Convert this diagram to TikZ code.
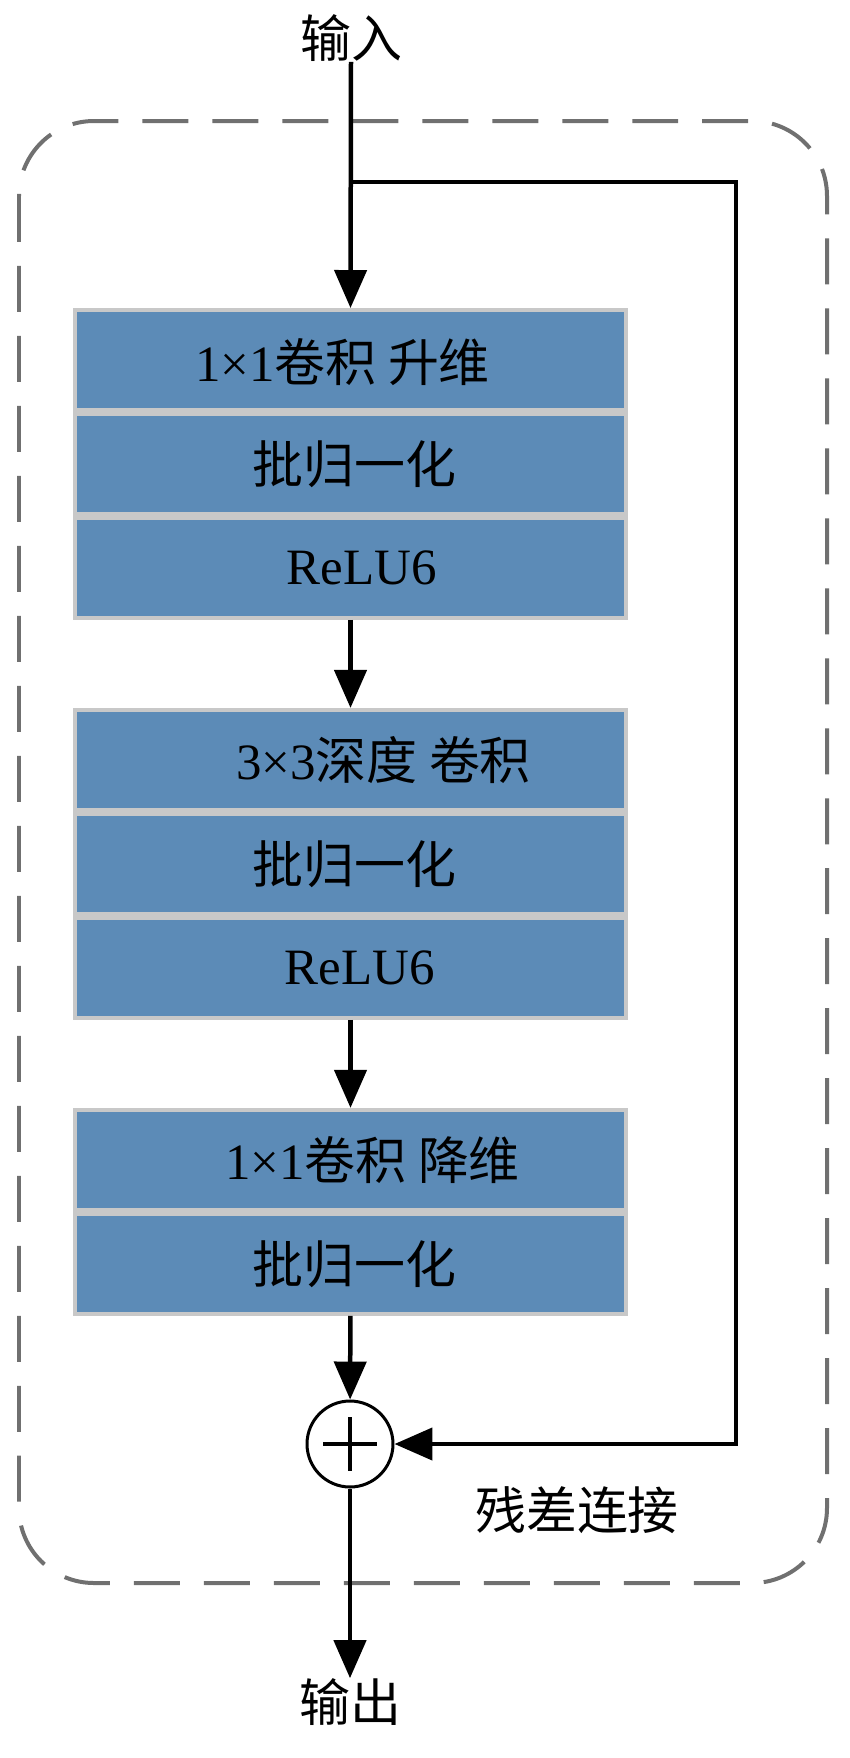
\documentclass[tikz,border=0pt]{standalone}
\usepackage{xcolor}
\usepackage{fontspec}
\usepackage{tikz}
\usetikzlibrary{arrows.meta,positioning,calc}
\setmainfont{Liberation Serif}
\newfontfamily\cjk{Noto Sans CJK SC}
\definecolor{layerblue}{RGB}{92,139,183}
\definecolor{layeredge}{RGB}{200,200,200}
\definecolor{framegray}{RGB}{112,112,112}

\begin{document}
\begin{tikzpicture}[x=0.02cm,y=-0.02cm,
	layer/.style={draw=layeredge,fill=layerblue,line width=0.08cm,minimum width=11.02cm,minimum height=2cm,inner sep=0pt},
	txt/.style={font=\fontsize{29pt}{34pt}\selectfont,inner sep=0pt},
	flow/.style={line width=0.09cm,-{Triangle[length=0.76cm,width=0.64cm]}},
	sumnode/.style={circle,draw,line width=0.06cm,minimum size=1.72cm,inner sep=0pt,fill=white},
	frame/.style={draw=framegray,line width=0.08cm,dash pattern=on 0.92cm off 0.48cm,rounded corners=1.5cm}]
	\useasboundingbox (0,0) rectangle (849,1758);
	\draw[frame] (19,121) rectangle (827,1583);

	\node[txt] (in) at (351,38) {\cjk 输入};
	\node[layer] (r11) at (350.5,360) {};
	\node[layer,below=0pt of r11] (r12) {};
	\node[layer,below=0pt of r12] (r13) {};
	\node[layer,below=1.76cm of r13] (r21) {};
	\node[layer,below=0pt of r21] (r22) {};
	\node[layer,below=0pt of r22] (r23) {};
	\node[layer,below=1.76cm of r23] (r31) {};
	\node[layer,below=0pt of r31] (r32) {};

	\node[txt] (t11) at ($(r11)+(-8,2)$) {1×1{\cjk 卷积 升维}};
	\node[txt] (t12) at ($(r12)+(4,0)$) {\cjk 批归一化};
	\node[txt] (t13) at ($(r13)+(11,0)$) {ReLU6};
	\node[txt] (t21) at ($(r21)+(33,0)$) {3×3{\cjk 深度 卷积}};
	\node[txt] (t22) at ($(r22)+(4,0)$) {\cjk 批归一化};
	\node[txt] (t23) at ($(r23)+(9,0)$) {ReLU6};
	\node[txt] (t31) at ($(r31)+(22,0)$) {1×1{\cjk 卷积 降维}};
	\node[txt] (t32) at ($(r32)+(4,0)$) {\cjk 批归一化};

	\node[sumnode] (sum) at (350,1444) {};
	\draw[line width=0.08cm] ($(sum)+(-27,0)$) -- ($(sum)+(27,0)$);
	\draw[line width=0.08cm] ($(sum)+(0,-27)$) -- ($(sum)+(0,27)$);
	\node[txt] (res) at (577,1510) {\cjk 残差连接};
	\node[txt] (out) at (350,1702) {\cjk 输出};

	\coordinate (split) at (351,182);
	\coordinate (back) at (736,1444);
	\draw[flow] (in.south) -- (r11.north);
	\draw[flow] (r13) -- (r21);
	\draw[flow] (r23) -- (r31);
	\draw[flow] (r32) -- (sum);
	\draw[flow] (sum) -- (out.north);
	\draw[flow] (split) -| (back) -- (sum);
\end{tikzpicture}
\end{document}
